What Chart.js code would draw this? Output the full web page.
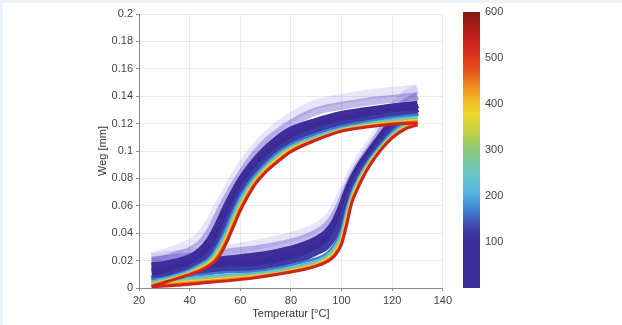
<!DOCTYPE html>
<html>
<head>
<meta charset="utf-8">
<script src="https://cdn.jsdelivr.net/npm/chart.js@4.4.1/dist/chart.umd.min.js"></script>
<style>
  body { margin: 0; background: #eaf2f7; }
  #card { position: absolute; left: 3px; top: 3px; right: 0; bottom: 0; background: #fff; }
  #main { position: absolute; left: 0; top: 0; width: 455px; height: 325px; }
  #bar { position: absolute; left: 440px; top: 0; width: 110px; height: 325px; }
</style>
</head>
<body>
<div id="card"></div>
<div id="main"><canvas id="loops"></canvas></div>
<div id="bar"><canvas id="colorbar"></canvas></div>
<script>
// Temperaturstuetzstellen (Aufheizen / Abkuehlen), beide aufsteigend
const tempHeat = [25, 35, 45, 55, 65, 75, 85, 90, 94, 97, 100, 102, 104, 106, 108, 111, 115, 120, 125, 130];
const tempCool = [25, 30, 35, 40, 44, 48, 51, 54, 57, 60, 63, 66, 70, 75, 80, 90, 100, 110, 120, 125, 130];

// Zyklen, die als Kurve gezeichnet werden
const cycles = [0, 20, 50, 90, 130, 170, 230, 300, 380, 460, 600];

// Weg [mm] beim Aufheizen
const wegHeat0   = [.022, .024, .026, .028, .031, .035, .040, .044, .049, .056, .067, .075, .083, .090, .096, .104, .115, .130, .140, .145];
const wegHeat20  = [.020, .022, .024, .026, .028, .031, .036, .040, .045, .052, .063, .072, .080, .087, .093, .101, .112, .126, .135, .140];
const wegHeat50  = [.016, .017, .019, .021, .023, .026, .031, .035, .040, .047, .059, .069, .078, .085, .091, .099, .109, .121, .129, .134];
const wegHeat90  = [.012, .013, .015, .017, .018, .021, .026, .030, .035, .042, .054, .065, .075, .083, .089, .097, .107, .118, .126, .131];
const wegHeat130 = [.007, .009, .0115, .0135, .014, .017, .0215, .026, .030, .037, .049, .061, .072, .080, .087, .095, .105, .116, .123, .128];
const wegHeat170 = [.006, .0078, .0098, .0115, .012, .0148, .019, .0215, .025, .031, .043, .058, .070, .078, .085, .094, .1035, .114, .121, .1265];
const wegHeat230 = [.0045, .0062, .008, .0095, .0105, .0132, .0172, .0198, .0235, .029, .040, .0555, .068, .0765, .0838, .0928, .1022, .1125, .1195, .1245];
const wegHeat300 = [.0035, .005, .0067, .0082, .0095, .012, .016, .0183, .022, .027, .038, .053, .0665, .0755, .0828, .0918, .1013, .1115, .118, .1225];
const wegHeat380 = [.0025, .004, .0055, .007, .0085, .011, .0148, .0172, .021, .0255, .0355, .0505, .0645, .0738, .0813, .0908, .1006, .1105, .117, .121];
const wegHeat460 = [.0018, .003, .0046, .0061, .0078, .0105, .0141, .0165, .0198, .024, .0335, .048, .0632, .0723, .080, .0898, .0999, .110, .1165, .120];
const wegHeat600 = [.001, .002, .0037, .0052, .0072, .010, .0135, .016, .019, .023, .032, .046, .062, .071, .079, .089, .0995, .1095, .116, .119];

// Weg [mm] beim Abkuehlen
const wegCool0   = [.022, .025, .028, .032, .037, .047, .058, .068, .078, .087, .095, .102, .110, .118, .1245, .134, .138, .141, .143, .144, .145];
const wegCool20  = [.019, .021, .024, .027, .0315, .041, .052, .063, .073, .082, .0905, .098, .106, .1135, .120, .129, .133, .136, .138, .139, .140];
const wegCool50  = [.016, .017, .019, .022, .0265, .035, .045, .057, .068, .078, .086, .093, .101, .109, .115, .1215, .1265, .1295, .132, .133, .134];
const wegCool90  = [.012, .013, .015, .018, .0215, .029, .038, .050, .062, .0725, .081, .088, .096, .104, .110, .1175, .1225, .126, .129, .130, .131];
const wegCool130 = [.007, .0085, .011, .0145, .019, .025, .033, .045, .058, .069, .078, .085, .093, .101, .107, .1145, .1195, .123, .126, .127, .128];
const wegCool170 = [.006, .0075, .0101, .0133, .0173, .0223, .031, .0425, .0555, .067, .076, .083, .091, .099, .105, .1125, .118, .1215, .1245, .1255, .1265];
const wegCool230 = [.0045, .0065, .0091, .0122, .0162, .0207, .0286, .0393, .0523, .0643, .0736, .081, .089, .0973, .103, .1105, .1165, .120, .123, .124, .125];
const wegCool300 = [.0035, .0056, .0083, .0113, .0152, .0197, .0266, .0368, .0499, .0618, .0716, .0795, .0878, .096, .1022, .1095, .1158, .1192, .1218, .1228, .1238];
const wegCool380 = [.0025, .0049, .0076, .0107, .0143, .0187, .0249, .0349, .0478, .060, .0701, .0783, .0867, .0947, .1013, .1088, .1152, .1185, .1208, .1215, .1225];
const wegCool460 = [.0018, .0044, .0072, .0102, .0133, .0175, .0231, .0329, .0456, .0582, .0685, .0771, .0855, .0935, .1003, .1084, .1148, .1179, .1201, .121, .1215];
const wegCool600 = [.001, .004, .0068, .0098, .0125, .0165, .0215, .031, .0435, .0565, .067, .076, .0845, .0925, .0995, .108, .1145, .1175, .1195, .120, .1205];

// Farbskala (Zyklen)
const cmapValues = [0, 100, 125, 150, 180, 205, 240, 280, 310, 345, 380, 410, 440, 470, 510, 545, 575, 600];
const cmapColors = ['#3d2f9b', '#3b2c98', '#3d3aa3', '#3f5fbd', '#4590d6', '#55b3e2', '#66c6d0', '#7cc89a', '#96cb68',
  '#c9d43d', '#f0d82c', '#f5b524', '#f08a20', '#e9561d', '#d92e1d', '#c2221a', '#a01c15', '#8a1812'];
const colorbarTicks = [100, 200, 300, 400, 500, 600];

const wegHeat = [wegHeat0, wegHeat20, wegHeat50, wegHeat90, wegHeat130, wegHeat170, wegHeat230, wegHeat300, wegHeat380, wegHeat460, wegHeat600];
const wegCool = [wegCool0, wegCool20, wegCool50, wegCool90, wegCool130, wegCool170, wegCool230, wegCool300, wegCool380, wegCool460, wegCool600];

const lineColors = ['rgba(110,100,215,0.17)', 'rgba(85,70,195,0.36)', '#3e2d9b', '#3b2b97', '#3d3ba6', '#4478cc',
  '#58bde0', '#86c98a', '#f0d42c', '#ef7a1f', '#cc2519'];
const lineWidths = [10, 8, 7.5, 7.5, 6, 2.6, 2.6, 2.6, 2.6, 2.6, 3];

Chart.defaults.font.family = "'Liberation Sans', Arial, sans-serif";
Chart.defaults.font.size = 11;
Chart.defaults.color = "#444";

const datasets = [];
cycles.forEach((c, i) => {
  [[tempHeat, wegHeat[i]], [tempCool, wegCool[i]]].forEach(([temps, weg]) => {
    datasets.push({
      label: c + " Zyklen",
      data: temps.map((t, k) => ({ x: t, y: weg[k] })),
      borderColor: lineColors[i],
      borderWidth: lineWidths[i],
      pointRadius: 0,
      cubicInterpolationMode: "monotone",
      order: cycles.length - i,
    });
  });
});

const axisColor = "#8a8a8a";
const gridColor = "#f0e6e8";

new Chart(document.getElementById("loops"), {
  type: "line",
  data: { datasets },
  options: {
    animation: false,
    responsive: true,
    maintainAspectRatio: false,
    layout: { padding: { left: 92, right: 10, top: 14, bottom: 0 } },
    plugins: { legend: { display: false }, tooltip: { enabled: false } },
    scales: {
      x: {
        type: "linear",
        min: 20,
        max: 140,
        ticks: { stepSize: 20, padding: 3 },
        grid: { color: gridColor, tickLength: 3, tickColor: axisColor },
        border: { color: axisColor },
        title: { display: true, text: "Temperatur [°C]", color: "#333" },
        afterFit: (s) => { s.height = 37; },
      },
      y: {
        type: "linear",
        min: 0,
        max: 0.2,
        ticks: { stepSize: 0.02, padding: 3, callback: (v) => String(+v.toFixed(2)) },
        grid: { color: gridColor, tickLength: 3, tickColor: axisColor },
        border: { color: axisColor },
        title: { display: true, text: "Weg [mm]", color: "#333" },
        afterFit: (s) => { s.width = 47; },
      },
    },
  },
});

const colorbarFill = {
  id: "colorbarFill",
  beforeDraw(chart) {
    const { ctx, chartArea: a } = chart;
    const g = ctx.createLinearGradient(0, a.bottom, 0, a.top);
    cmapValues.forEach((v, i) => g.addColorStop(v / 600, cmapColors[i]));
    ctx.save();
    ctx.fillStyle = g;
    ctx.fillRect(a.left, a.top, a.right - a.left, a.bottom - a.top);
    ctx.restore();
  },
};

new Chart(document.getElementById("colorbar"), {
  type: "line",
  data: { datasets: [] },
  options: {
    animation: false,
    responsive: true,
    maintainAspectRatio: false,
    layout: { padding: { left: 23, right: 0, top: 12, bottom: 37 } },
    plugins: { legend: { display: false }, tooltip: { enabled: false } },
    scales: {
      x: { type: "linear", display: false, min: 0, max: 1 },
      y: {
        type: "linear",
        position: "right",
        min: 0,
        max: 600,
        afterBuildTicks: (s) => { s.ticks = colorbarTicks.map((v) => ({ value: v })); },
        ticks: { padding: 5 },
        grid: { display: false, drawTicks: false },
        border: { display: false },
        afterFit: (s) => { s.width = 70; },
      },
    },
  },
  plugins: [colorbarFill],
});
</script>
</body>
</html>
